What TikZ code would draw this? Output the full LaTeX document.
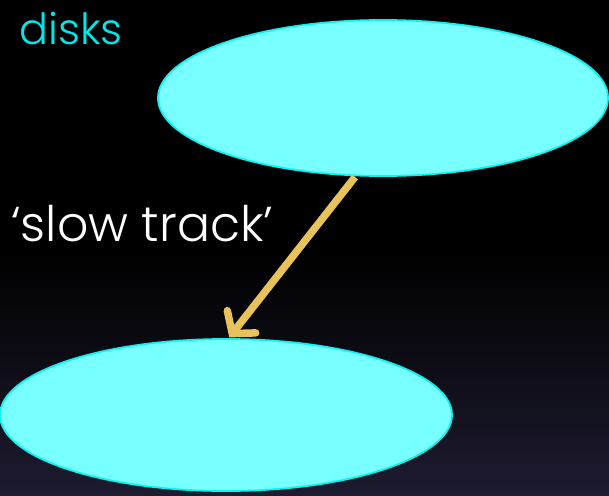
\documentclass[tikz,border=0pt]{standalone}
\usepackage{fontspec}
\setmainfont{Poppins Light}
\usetikzlibrary{arrows.meta,shapes.geometric}
\definecolor{diskfill}{HTML}{78FFFF}
\definecolor{diskline}{HTML}{10F0F0}
\definecolor{labcyan}{HTML}{00E8E8}
\definecolor{arrowgold}{HTML}{E8C25A}
\definecolor{bgtop}{HTML}{000000}
\definecolor{bgbot}{HTML}{1D1B2F}
\begin{document}
\begin{tikzpicture}[x=1pt,y=-1pt,
  disk/.style={ellipse,fill=diskfill,draw=diskline,line width=1.8pt,inner sep=0pt},
  lab/.style={anchor=base west,inner sep=0pt},
  flow/.style={draw=arrowgold,line width=7.5pt,-{Straight Barb[length=15pt,width=36pt,line cap=round]},shorten >=2pt}]
\shade[top color=bgtop,bottom color=bgbot] (0,250) rectangle (609,495);
\fill[bgtop] (0,0) rectangle (609,250);
\useasboundingbox (0,0) rectangle (609,495);
\node[disk,minimum width=450pt,minimum height=156pt] (top) at (383,98) {};
\node[disk,minimum width=452pt,minimum height=152pt] (bot) at (226,415) {};
\node[lab,text=labcyan,font=\fontsize{43}{46}\selectfont] (disks) at (19,45) {disks};
\node[lab,text=white,font=\fontsize{49}{52}\selectfont] (slow) at (11,241) {‘slow track’};
\coordinate (s) at (355,177);
\coordinate (e) at (228,339);
\draw[flow] (s) -- (e);
\end{tikzpicture}
\end{document}
